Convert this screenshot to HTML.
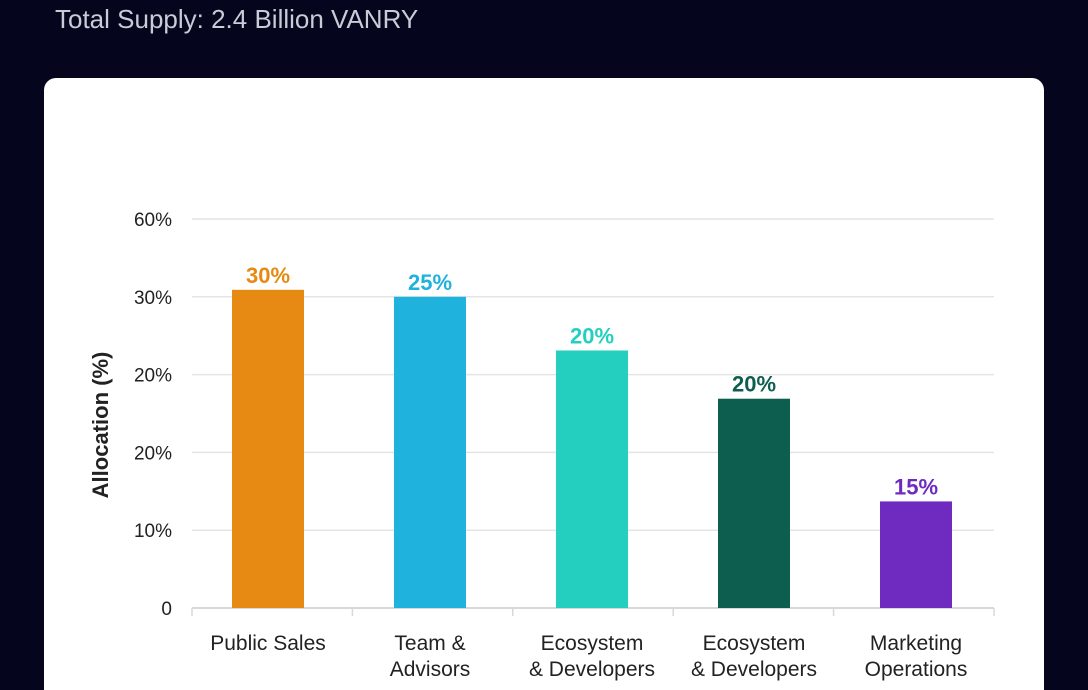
<!DOCTYPE html>
<html style="overflow:hidden;height:690px"><head><meta charset="utf-8"><style>
body{margin:0;width:1088px;height:690px;background:#05051e;overflow:hidden;font-family:"Liberation Sans",sans-serif;position:relative}
#title{position:absolute;left:55px;top:4px;color:#c9cbd6;font-size:26px}
#card{position:absolute;left:44px;top:78px;width:1000px;height:640px;background:#fff;border-radius:12px}
svg{position:absolute;left:0;top:0}
</style></head><body>
<div id="title">Total Supply: 2.4 Billion VANRY</div>
<div id="card"></div>
<svg id="chart" width="1088" height="690"></svg>
<script>
const categories=[["Public Sales"],["Team &","Advisors"],["Ecosystem","& Developers"],["Ecosystem","& Developers"],["Marketing","Operations"]];
const values=[40.9,40,33.1,26.9,13.7];
const valueLabels=["30%","25%","20%","20%","15%"];
const tickValues=[0,10,20,30,40,50];
const tickLabels=["0","10%","20%","20%","30%","60%"];
const colors=["#e68a13","#1fb2dc","#25cfc0","#0e5e50","#6f2bc0"];
const labelColors=["#e68a13","#1fb2dc","#25cfc0","#0e5e50","#6f2bc0"];
const svg=document.getElementById('chart');const NS='http://www.w3.org/2000/svg';
const x0=192,x1=994,y0=608,yTop=219,vMax=50;
const y=v=>y0-(y0-yTop)*v/vMax;
const bw=(x1-x0)/categories.length;
const step=162;
const xc=i=>x0+76+step*i;
function mk(t,a,txt){const e=document.createElementNS(NS,t);for(const k in a)e.setAttribute(k,a[k]);if(txt!=null)e.textContent=txt;svg.appendChild(e);return e;}
tickValues.forEach((v,i)=>{
 if(v>0){const g=mk('line',{x1:x0,x2:x1,y1:y(v),y2:y(v),stroke:'#e4e4e8','stroke-width':1.5});
 
 }
 const t=mk('text',{x:172,y:y(v)+7,'text-anchor':'end','font-size':19,fill:'#222'},tickLabels[i]);
 
 
});
const ax=mk('line',{x1:x0,x2:x1,y1:y0,y2:y0,stroke:'#d8d8dc','stroke-width':2});


for(let i=0;i<=categories.length;i++){const tk=mk('line',{x1:x0+bw*i,x2:x0+bw*i,y1:y0,y2:y0+8,stroke:'#d8d8dc','stroke-width':1.5});
 
 }
const yt=mk('text',{x:0,y:0,transform:'translate(108,425) rotate(-90)','text-anchor':'middle','font-size':22,'font-weight':'bold',fill:'#222'},'Allocation (%)');


values.forEach((v,i)=>{
 const r=mk('rect',{x:xc(i)-36,y:y(v),width:72,height:y0-y(v),fill:colors[i]});
 
 
 const l=mk('text',{x:xc(i),y:y(v)-7,'text-anchor':'middle','font-size':22,'font-weight':'bold',fill:labelColors[i]},valueLabels[i]);
 
 
 categories[i].forEach((s,j)=>{const c=mk('text',{x:xc(i),y:650+j*26,'text-anchor':'middle','font-size':21,fill:'#222'},s);
 
 });
});
</script>
</body></html>
